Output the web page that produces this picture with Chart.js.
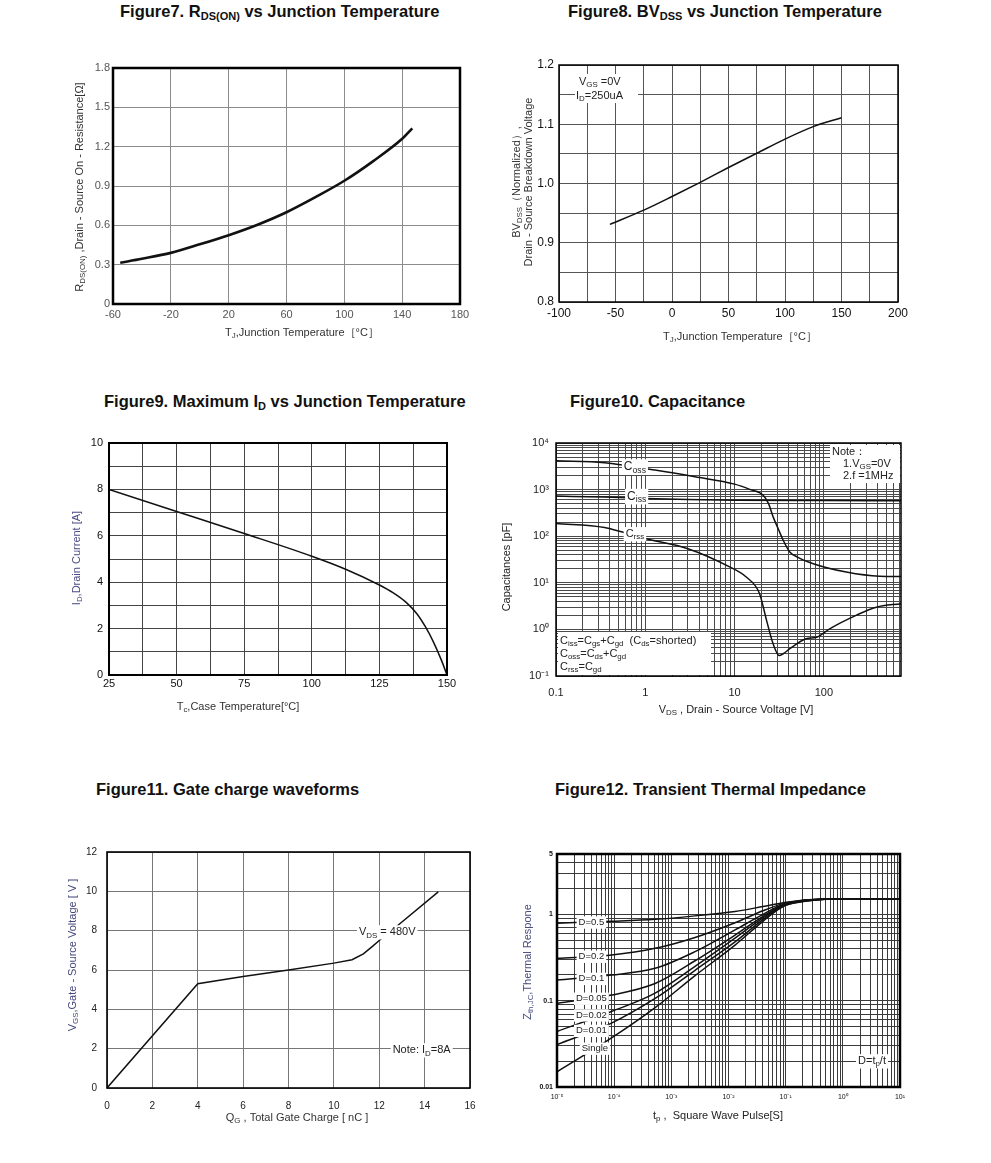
<!DOCTYPE html>
<html>
<head>
<meta charset="utf-8" />
<title>MOSFET characteristic curves</title>
<script src="https://cdn.jsdelivr.net/npm/chart.js@4.4.1/dist/chart.umd.min.js"></script>
<style>
  body { margin: 0; background: #fff; font-family: "Liberation Sans", Arial, sans-serif; }
  #page { position: relative; width: 991px; height: 1163px; overflow: hidden; }
  .fig-title { position: absolute; font-weight: bold; font-size: 16.5px; color: #111; white-space: nowrap; line-height: 17px; }
  .fig-title sub { font-size: 11px; vertical-align: -3px; line-height: 0; }
  canvas { position: absolute; }
</style>
</head>
<body>
<div id="page">
  <div class="fig-title" style="left:120px; top:3px">Figure7. R<sub>DS(ON)</sub> vs Junction Temperature</div>
  <div class="fig-title" style="left:568px; top:3px">Figure8. BV<sub>DSS</sub> vs Junction Temperature</div>
  <div class="fig-title" style="left:104px; top:393px">Figure9. Maximum I<sub>D</sub> vs Junction Temperature</div>
  <div class="fig-title" style="left:570px; top:393px">Figure10. Capacitance</div>
  <div class="fig-title" style="left:96px; top:781px">Figure11. Gate charge waveforms</div>
  <div class="fig-title" style="left:555px; top:781px">Figure12. Transient Thermal Impedance</div>
</div>
<script>
// ---- values ----

// fig 7: on-resistance vs junction temperature
const rdsTempC = [-55, -40, -20, 0, 20, 40, 60, 80, 100, 120, 140, 147];
const rdsOnOhm = [0.315, 0.345, 0.39, 0.455, 0.525, 0.605, 0.70, 0.815, 0.94, 1.09, 1.26, 1.34];
const rdsXLabels = [-60, -20, 20, 60, 100, 140, 180];
const rdsYLabels = ['0', '0.3', '0.6', '0.9', '1.2', '1.5', '1.8'];

// fig 8: normalized breakdown voltage
const bvTempC = [-55, -25, 0, 25, 50, 75, 100, 125, 150];
const bvNorm = [0.931, 0.955, 0.978, 1.002, 1.027, 1.051, 1.075, 1.096, 1.111];
const bvXLabels = [-100, -50, 0, 50, 100, 150, 200];
const bvYLabels = ['0.8', '0.9', '1.0', '1.1', '1.2'];

// fig 9: max drain current vs case temperature
const idCaseC = [25, 50, 75, 100, 112.5, 125, 130, 135, 139, 142, 145, 148, 150];
const idMaxA = [8.0, 7.05, 6.1, 5.12, 4.56, 3.88, 3.55, 3.12, 2.62, 2.08, 1.42, 0.62, 0];
const idXLabels = [25, 50, 75, 100, 125, 150];
const idYLabels = [0, 2, 4, 6, 8, 10];

// fig 10: capacitances
const cossV = [0.1, 0.35, 1.28, 3.6, 10, 15, 20.9, 24, 27, 30.7, 35, 41.5, 50, 76, 178, 420, 730];
const cossPf = [4150, 3770, 2620, 1880, 1310, 1000, 760, 500, 260, 146, 82, 46, 36, 25.7, 17, 13.8, 13.6];
const cissV = [0.1, 0.35, 1, 3, 10, 100, 730];
const cissPf = [725, 690, 645, 610, 590, 580, 575];
const crssV = [0.1, 0.35, 0.54, 1, 3, 8.8, 13.5, 19, 22.8, 27, 31.6, 35, 41.5, 63, 83, 116, 229, 386, 730];
const crssPf = [188, 154, 124, 89, 54, 21.9, 13.3, 5.9, 1.56, 0.49, 0.275, 0.30, 0.385, 0.63, 0.68, 1.03, 2.0, 3.0, 3.57];
const capXLabels = [0.1, 1, 10, 100];
const capYLabels = [0.1, 1, 10, 100, 1000, 10000];

// fig 11: gate charge
const qgNc = [0, 4, 6, 8, 10, 10.8, 11.3, 11.7, 12, 12.8, 14.6];
const vgsV = [0, 5.3, 5.67, 6.0, 6.35, 6.52, 6.82, 7.2, 7.5, 8.25, 9.97];
const qgXLabels = [0, 2, 4, 6, 8, 10, 12, 14, 16];
const qgYLabels = [0, 2, 4, 6, 8, 10, 12];

// fig 12: transient thermal impedance
const pulseS = [1e-5, 9e-5, 5.2e-4, 2.6e-3, 1.3e-2, 4e-2, 0.09, 0.18, 0.5, 1, 10];
const zthD50 = [0.79, 0.83, 0.875, 0.96, 1.08, 1.23, 1.36, 1.45, 1.51, 1.52, 1.52];
const zthD20 = [0.309, 0.338, 0.404, 0.54, 0.80, 1.10, 1.33, 1.44, 1.50, 1.52, 1.52];
const zthD10 = [0.173, 0.198, 0.237, 0.37, 0.66, 1.00, 1.30, 1.43, 1.50, 1.52, 1.52];
const zthD05 = [0.093, 0.116, 0.158, 0.29, 0.575, 0.95, 1.28, 1.42, 1.50, 1.52, 1.52];
const zthD02 = [0.044, 0.075, 0.122, 0.25, 0.53, 0.91, 1.27, 1.41, 1.50, 1.52, 1.52];
const zthD01 = [0.031, 0.055, 0.106, 0.225, 0.48, 0.87, 1.25, 1.40, 1.50, 1.52, 1.52];
const zthSingle = [0.015, 0.037, 0.083, 0.195, 0.44, 0.83, 1.23, 1.39, 1.50, 1.52, 1.52];
const zthNames = ['D=0.5', 'D=0.2', 'D=0.1', 'D=0.05', 'D=0.02', 'D=0.01', 'Single'];
const zthXLabels = [1e-5, 1e-4, 1e-3, 1e-2, 1e-1, 1, 10];
const zthYLabels = ['0.01', '0.1', '1', '5'];

// ---- helpers ----
const FONT = '"Liberation Sans", Arial, sans-serif';
const page = document.getElementById('page');
const pts = (xs, ys) => xs.map((x, i) => ({x, y: ys[i]}));

const SUP = {'-': '\u207B', '0': '\u2070', '1': '\u00B9', '2': '\u00B2', '3': '\u00B3', '4': '\u2074', '5': '\u2075'};
const pow10 = v => '10' + String(Math.round(Math.log10(v))).split('').map(c => SUP[c]).join('');

function pickLabel(labels, v, fmt) {
  const hit = labels.find(l => Math.abs(parseFloat(l) - v) <= Math.abs(v) * 1e-6 + 1e-9);
  if (hit === undefined) return '';
  return fmt ? fmt(parseFloat(hit)) : String(hit);
}

// every 1..9 x 10^n between lo and hi, for the log grids
function logGrid(lo, hi) {
  const out = [];
  for (let e = Math.floor(Math.log10(lo)); e <= Math.ceil(Math.log10(hi)); e++) {
    for (let k = 1; k <= 9; k++) {
      const v = k * Math.pow(10, e);
      if (v >= lo * 0.999 && v <= hi * 1.001) out.push(v);
    }
  }
  return out;
}

// text with _{sub} and ^{sup} parts
function richText(ctx, str, x, y, o) {
  const size = o.size || 11;
  const parts = [];
  str.replace(/([_^])\{([^}]*)\}|([^_^]+)/g, (m, k, t, plain) => {
    parts.push(plain !== undefined ? {t: plain, k: ''} : {t, k});
    return m;
  });
  const fontOf = k => (o.bold ? 'bold ' : '') + (k ? size * 0.72 : size) + 'px ' + FONT;
  let w = 0;
  for (const p of parts) { ctx.font = fontOf(p.k); p.w = ctx.measureText(p.t).width; w += p.w; }
  let x0 = o.align === 'left' ? x : o.align === 'right' ? x - w : x - w / 2;
  if (o.bg) {
    ctx.fillStyle = o.bg;
    ctx.fillRect(x0 - 2, y - size * 0.62, w + 4, size * 1.3);
  }
  ctx.fillStyle = o.color || '#222';
  ctx.textBaseline = 'middle';
  ctx.textAlign = 'left';
  for (const p of parts) {
    ctx.font = fontOf(p.k);
    ctx.fillText(p.t, x0, y + (p.k === '_' ? size * 0.3 : p.k === '^' ? -size * 0.35 : 0));
    x0 += p.w;
  }
}

// frame, axis titles and annotations (one plugin per chart, kept out of the option resolver)
function decorPlugin(box, o) {
  return {
    id: 'decor',
    afterDraw(chart) {
      const ctx = chart.ctx, a = chart.chartArea;
      ctx.save();
      for (const r of o.rects || []) {
        ctx.fillStyle = '#fff';
        ctx.fillRect(r[0] - box.x, r[1] - box.y, r[2], r[3]);
      }
      for (const L of o.labels || []) {
        let px, py;
        if (L.at) {
          px = chart.scales.x.getPixelForValue(L.at[0]);
          py = chart.scales.y.getPixelForValue(L.at[1]);
        } else {
          px = L.page[0] - box.x;
          py = L.page[1] - box.y;
        }
        ctx.save();
        ctx.translate(px, py);
        if (L.rot) ctx.rotate(-Math.PI / 2);
        richText(ctx, L.text, 0, 0, L);
        ctx.restore();
      }
      ctx.strokeStyle = '#000';
      ctx.lineWidth = o.frame || 1.5;
      ctx.strokeRect(a.left, a.top, a.right - a.left, a.bottom - a.top);
      ctx.restore();
    }
  };
}

function axis(type, min, max, o) {
  const s = {
    type, min, max,
    grid: {color: o.grid || '#555', lineWidth: 1, drawTicks: false},
    border: {display: false},
    ticks: {
      autoSkip: false, maxRotation: 0, minRotation: 0,
      padding: o.pad, color: o.color || '#222',
      font: {family: FONT, size: o.size || 11, weight: o.bold ? 'bold' : 'normal'},
      callback: v => pickLabel(o.labels, v, o.fmt)
    }
  };
  if (o.step) s.ticks.stepSize = o.step;
  if (o.gridAt) s.afterBuildTicks = sc => { sc.ticks = o.gridAt.map(value => ({value})); };
  return s;
}

function curve(data, width, smooth) {
  return {data, borderColor: '#111', borderWidth: width || 1.5, pointRadius: 0, fill: false,
    tension: 0, cubicInterpolationMode: smooth === false ? 'default' : 'monotone'};
}

function makeChart(area, datasets, xScale, yScale, deco) {
  const box = {x: area.l - 70, y: area.t - 20, w: area.r - area.l + 110, h: area.b - area.t + 70};
  const cv = document.createElement('canvas');
  cv.width = box.w;
  cv.height = box.h;
  cv.style.left = box.x + 'px';
  cv.style.top = box.y + 'px';
  page.appendChild(cv);
  xScale.afterFit = s => { s.height = box.y + box.h - area.b; };
  yScale.afterFit = s => { s.width = area.l - box.x; };
  return new Chart(cv, {
    type: 'line',
    data: {datasets},
    options: {
      responsive: false, animation: false, devicePixelRatio: 1,
      layout: {padding: {left: 0, top: area.t - box.y, right: box.x + box.w - area.r, bottom: 0}},
      plugins: {legend: {display: false}, tooltip: {enabled: false}},
      scales: {x: xScale, y: yScale}
    },
    plugins: [decorPlugin(box, deco)]
  });
}

// ---- figure 7 ----
makeChart({l: 113, t: 68, r: 460, b: 304},
  [curve(pts(rdsTempC, rdsOnOhm), 2.6)],
  axis('linear', -60, 180, {step: 40, labels: rdsXLabels, pad: 4, color: '#555', grid: '#8c8c8c'}),
  axis('linear', 0, 1.8, {step: 0.3, labels: rdsYLabels, pad: 3, color: '#555', grid: '#8c8c8c'}),
  {frame: 2.5, labels: [
    {text: 'T_{J},Junction Temperature\uFF3B\u00B0C\uFF3D', page: [302, 333], color: '#333'},
    {text: 'R_{DS(ON)} ,Drain - Source On - Resistance[\u03A9]', page: [80, 187], rot: true, color: '#333'}
  ]});

// ---- figure 8 ----
makeChart({l: 559, t: 65, r: 898, b: 302},
  [curve(pts(bvTempC, bvNorm))],
  axis('linear', -100, 200, {step: 25, labels: bvXLabels, pad: 4, size: 12, color: '#111', grid: '#555'}),
  axis('linear', 0.8, 1.2, {step: 0.05, labels: bvYLabels, pad: 5, size: 12, color: '#111', grid: '#555'}),
  {frame: 1.5, rects: [[575, 74, 63, 29]], labels: [
    {text: 'V_{GS} =0V', page: [579, 82], align: 'left', color: '#222'},
    {text: 'I_{D}=250uA', page: [576, 96], align: 'left', color: '#222'},
    {text: 'T_{J},Junction Temperature\uFF3B\u00B0C\uFF3D', page: [740, 337], color: '#333'},
    {text: 'BV_{DSS}\uFF08Normalized\uFF09,', page: [517, 182], rot: true, color: '#333'},
    {text: 'Drain - Source Breakdown Voltage', page: [529, 182], rot: true, color: '#333'}
  ]});

// ---- figure 9 ----
makeChart({l: 109, t: 443, r: 447, b: 675},
  [curve(pts(idCaseC, idMaxA))],
  axis('linear', 25, 150, {step: 12.5, labels: idXLabels, pad: 2, color: '#111', grid: '#444'}),
  axis('linear', 0, 10, {step: 1, labels: idYLabels, pad: 6, color: '#111', grid: '#444'}),
  {frame: 2, labels: [
    {text: 'T_{c},Case Temperature[\u00B0C]', page: [238, 707], color: '#333'},
    {text: 'I_{D},Drain Current [A]', page: [77, 558], rot: true, color: '#4b4c86'}
  ]});

// ---- figure 10 ----
makeChart({l: 556, t: 443, r: 901, b: 676},
  [curve(pts(cossV, cossPf)), curve(pts(cissV, cissPf)), curve(pts(crssV, crssPf))],
  axis('logarithmic', 0.1, 730, {gridAt: logGrid(0.1, 730), labels: capXLabels, pad: 10, color: '#222', grid: '#4a4a4a'}),
  axis('logarithmic', 0.1, 10000, {gridAt: logGrid(0.1, 10000), labels: capYLabels, fmt: pow10, pad: 7, color: '#222', grid: '#4a4a4a'}),
  {frame: 1.5, rects: [[830, 445, 70, 38], [558, 632, 153, 43]], labels: [
    {text: 'C_{oss}', at: [0.765, 3090], bg: '#fff', size: 12},
    {text: 'C_{iss}', at: [0.8, 720], bg: '#fff', size: 12},
    {text: 'C_{rss}', at: [0.765, 112], bg: '#fff', size: 11},
    {text: 'Note\uFF1A', page: [832, 452], align: 'left', size: 11},
    {text: '1.V_{GS}=0V', page: [843, 464], align: 'left', size: 11},
    {text: '2.f =1MHz', page: [843, 476], align: 'left', size: 11},
    {text: 'C_{iss}=C_{gs}+C_{gd}  (C_{ds}=shorted)', page: [560, 641], align: 'left', size: 11},
    {text: 'C_{oss}=C_{ds}+C_{gd}', page: [560, 654], align: 'left', size: 11},
    {text: 'C_{rss}=C_{gd}', page: [560, 667], align: 'left', size: 11},
    {text: 'V_{DS} , Drain - Source Voltage [V]', page: [736, 710], color: '#222'},
    {text: 'Capacitances [pF]', page: [507, 567], rot: true, color: '#222'}
  ]});

// ---- figure 11 ----
makeChart({l: 107, t: 852, r: 470, b: 1088},
  [curve(pts(qgNc, vgsV), 1.5, false)],
  axis('linear', 0, 16, {step: 2, labels: qgXLabels, pad: 12, size: 10, color: '#222', grid: '#777'}),
  axis('linear', 0, 12, {step: 2, labels: qgYLabels, pad: 10, size: 10, color: '#222', grid: '#777'}),
  {frame: 1.6, labels: [
    {text: 'V_{DS} = 480V', at: [12.35, 7.93], bg: '#fff', size: 11},
    {text: 'Note: I_{D}=8A', at: [13.87, 1.93], bg: '#fff', size: 11},
    {text: 'Q_{G} , Total Gate Charge [ nC ]', page: [297, 1118], color: '#333'},
    {text: 'V_{GS},Gate - Source Voltage [ V ]', page: [73, 955], rot: true, color: '#44477a'}
  ]});

// ---- figure 12 ----
const zthSets = [zthD50, zthD20, zthD10, zthD05, zthD02, zthD01, zthSingle];
const zthTagY = [0.81, 0.325, 0.18, 0.106, 0.068, 0.045, 0.028];
makeChart({l: 557, t: 854, r: 900, b: 1087},
  zthSets.map(ys => curve(pts(pulseS, ys))),
  axis('logarithmic', 1e-5, 10, {gridAt: logGrid(1e-5, 10), labels: zthXLabels, fmt: pow10, pad: 6, size: 7, color: '#111', grid: '#3a3a3a'}),
  axis('logarithmic', 0.01, 5, {gridAt: logGrid(0.01, 5), labels: zthYLabels, pad: 4, size: 7, bold: true, color: '#111', grid: '#3a3a3a'}),
  {frame: 2.5, labels: zthNames.map((name, i) => ({text: name, at: [i === 6 ? 4.6e-5 : 4e-5, zthTagY[i]], bg: '#fff', size: 9.5}))
    .concat([
      {text: 'D=t_{p}/t', page: [872, 1061], bg: '#fff', size: 11},
      {text: 't_{p} ,  Square Wave Pulse[S]', page: [718, 1116], color: '#222'},
      {text: 'Z_{th,JC},Thermal Respone', page: [528, 962], rot: true, color: '#4a4e7e'}
    ])});
</script>
</body>
</html>
